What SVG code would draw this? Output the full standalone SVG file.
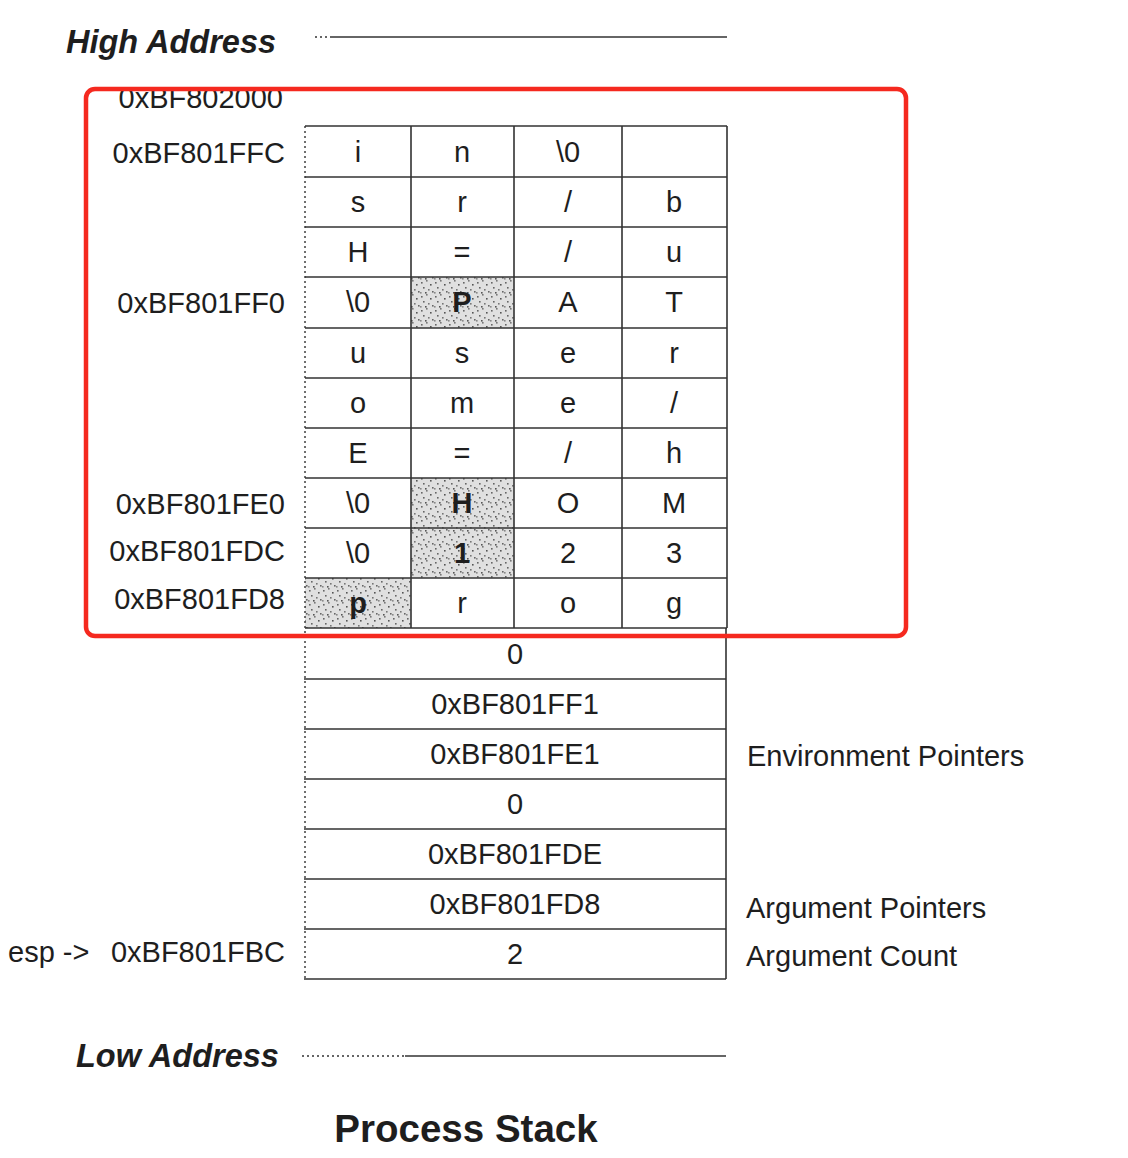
<svg xmlns="http://www.w3.org/2000/svg" width="1128" height="1158" viewBox="0 0 1128 1158">
<defs>
<pattern id="dots" width="14" height="14" patternUnits="userSpaceOnUse">
<rect width="14" height="14" fill="#e0e0e0"/>
<rect x="1" y="2" width="1.6" height="1.6" fill="#666"/>
<rect x="6" y="0" width="1.6" height="1.6" fill="#777"/>
<rect x="10" y="4" width="1.6" height="1.6" fill="#555"/>
<rect x="3" y="7" width="1.6" height="1.6" fill="#666"/>
<rect x="8" y="9" width="1.6" height="1.6" fill="#777"/>
<rect x="12" y="11" width="1.6" height="1.6" fill="#666"/>
<rect x="0" y="12" width="1.6" height="1.6" fill="#888"/>
<rect x="5" y="12" width="1.6" height="1.6" fill="#555"/>
</pattern>
<style>
.t{font-family:"Liberation Sans",Arial,sans-serif;font-size:29px;fill:#1e1e1e}
.c{text-anchor:middle}
.r{text-anchor:end}
.b{font-weight:bold}
.hd{font-family:"Liberation Sans",Arial,sans-serif;font-size:32.5px;font-weight:bold;font-style:italic;fill:#1e1e1e}
.ln{stroke:#333;stroke-width:1.6;fill:none}
.dl{stroke:#333;stroke-width:1.4;stroke-dasharray:2 3;fill:none}
.sh{fill:url(#dots)}
</style>
</defs>
<rect width="1128" height="1158" fill="#fff"/>

<g id="high-address">
<text class="hd" x="66" y="53">High Address</text>
<line class="dl" x1="315" y1="37" x2="330" y2="37"/>
<line class="ln" x1="330" y1="37" x2="727" y2="37"/>
</g>

<g id="low-address">
<text class="hd" x="76" y="1067">Low Address</text>
<line class="dl" x1="302" y1="1056" x2="405" y2="1056"/>
<line class="ln" x1="405" y1="1056" x2="726" y2="1056"/>
</g>

<g id="shaded-cells">
<rect class="sh" x="411" y="277" width="103" height="51"/>
<rect class="sh" x="411" y="478" width="103" height="50"/>
<rect class="sh" x="411" y="528" width="103" height="50"/>
<rect class="sh" x="305" y="578" width="106" height="50"/>
</g>

<g id="connectors">
<path class="ln" d="M305 126H727M305 177H727M305 227H727M305 277H727M305 328H727M305 378H727M305 428H727M305 478H727M305 528H727M305 578H727M305 628H727"/>
<path class="ln" d="M304 679H726M304 729H726M304 779H726M304 829H726M304 879H726M304 929H726M304 979H726"/>
<path class="ln" d="M411 126V628M514 126V628M622 126V628M727 126V628"/>
<path class="ln" d="M726 628V979"/>
<line class="dl" x1="305" y1="126" x2="305" y2="979"/>
</g>

<g id="upper-cells">
<text class="t c" x="358" y="162">i</text>
<text class="t c" x="462" y="162">n</text>
<text class="t c" x="568" y="162">\0</text>

<text class="t c" x="358" y="212">s</text>
<text class="t c" x="462" y="212">r</text>
<text class="t c" x="568" y="212">/</text>
<text class="t c" x="674" y="212">b</text>

<text class="t c" x="358" y="262">H</text>
<text class="t c" x="462" y="262">=</text>
<text class="t c" x="568" y="262">/</text>
<text class="t c" x="674" y="262">u</text>

<text class="t c" x="358" y="312">\0</text>
<text class="t c b" x="462" y="312">P</text>
<text class="t c" x="568" y="312">A</text>
<text class="t c" x="674" y="312">T</text>

<text class="t c" x="358" y="363">u</text>
<text class="t c" x="462" y="363">s</text>
<text class="t c" x="568" y="363">e</text>
<text class="t c" x="674" y="363">r</text>

<text class="t c" x="358" y="413">o</text>
<text class="t c" x="462" y="413">m</text>
<text class="t c" x="568" y="413">e</text>
<text class="t c" x="674" y="413">/</text>

<text class="t c" x="358" y="463">E</text>
<text class="t c" x="462" y="463">=</text>
<text class="t c" x="568" y="463">/</text>
<text class="t c" x="674" y="463">h</text>

<text class="t c" x="358" y="513">\0</text>
<text class="t c b" x="462" y="513">H</text>
<text class="t c" x="568" y="513">O</text>
<text class="t c" x="674" y="513">M</text>

<text class="t c" x="358" y="563">\0</text>
<text class="t c b" x="462" y="563">1</text>
<text class="t c" x="568" y="563">2</text>
<text class="t c" x="674" y="563">3</text>

<text class="t c b" x="358" y="613">p</text>
<text class="t c" x="462" y="613">r</text>
<text class="t c" x="568" y="613">o</text>
<text class="t c" x="674" y="613">g</text>
</g>

<g id="lower-cells">
<text class="t c" x="515" y="664">0</text>
<text class="t c" x="515" y="714">0xBF801FF1</text>
<text class="t c" x="515" y="764">0xBF801FE1</text>
<text class="t c" x="515" y="814">0</text>
<text class="t c" x="515" y="864">0xBF801FDE</text>
<text class="t c" x="515" y="914">0xBF801FD8</text>
<text class="t c" x="515" y="964">2</text>
</g>

<g id="address-labels">
<text class="t r" x="283" y="108">0xBF802000</text>
<text class="t r" x="285" y="163">0xBF801FFC</text>
<text class="t r" x="285" y="313">0xBF801FF0</text>
<text class="t r" x="285" y="514">0xBF801FE0</text>
<text class="t r" x="285" y="561">0xBF801FDC</text>
<text class="t r" x="285" y="609">0xBF801FD8</text>
<text class="t r" x="285" y="962">0xBF801FBC</text>
<text class="t" x="8" y="962">esp -&gt;</text>
</g>

<g id="side-labels">
<text class="t" x="747" y="766">Environment Pointers</text>
<text class="t" x="746" y="918">Argument Pointers</text>
<text class="t" x="746" y="966">Argument Count</text>
</g>

<g id="title">
<text class="t c b" x="466" y="1142" style="font-size:38.5px">Process Stack</text>
</g>

<g id="highlight">
<rect x="86" y="89" width="820" height="547" rx="9" fill="none" stroke="#f5291f" stroke-width="4.5"/>
</g>
</svg>
